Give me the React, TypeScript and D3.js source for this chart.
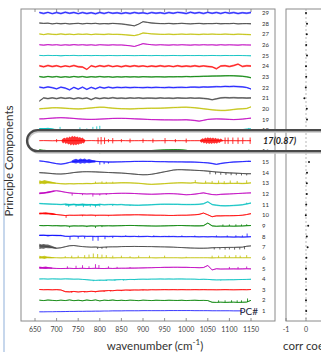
import * as d3 from 'd3';

// wavenumber grid shared by every trace (cm-1)
const wavenumbers = [
  660, 670, 680, 690, 700, 710, 720, 730, 740, 750,
  760, 770, 780, 790, 800, 810, 820, 830, 840, 850,
  860, 870, 880, 890, 900, 910, 920, 930, 940, 950,
  960, 970, 980, 990, 1000, 1010, 1020, 1030, 1040, 1050,
  1060, 1070, 1080, 1090, 1100, 1110, 1120, 1130, 1140, 1150,
];

const xTicks = [650, 700, 750, 800, 850, 900, 950, 1000, 1050, 1100, 1150];
const corrTicks = [-1, 0];

// MATLAB default colour order b g r c m y k
const colorCycle = ['#1010ff', '#008000', '#ff0000', '#00bfbf', '#bf00bf', '#bfbf00', '#404040'];

// loadings of each principal component (arbitrary units, offset added later)
const pc1 = [-0.8, -0.8, -0.7, -0.7, -0.6, -0.6, -0.5, -0.4, -0.4, -0.3, -0.3, -0.2, -0.2, -0.1, -0.1, 0, 0, 0.1, 0.1, 0.1, 0.2, 0.2, 0.2, 0.2, 0.3, 0.3, 0.3, 0.3, 0.3, 0.3, 0.4, 0.4, 0.4, 0.4, 0.4, 0.4, 0.3, 0.3, 0.3, 0.3, 0.2, 0.2, 0.2, 0.2, 0.2, 0.1, 0.1, 0.1];
const pc2 = [0.2, -0.2, 0.3, 0, -0.3, 0.2, -0.2, 0.4, -0.3, 0.1, -0.4, 0.3, -0.2, 0.4, -0.5, 0.2, -0.1, 0.3, -0.2, 0.1, -0.2, 0.2, 0, -0.3, 0.2, 0, -0.2, 0.1, 0, -0.1, 0.1, 0, -0.1, 0.1, -0.2, 0, 0.1, -0.1, 0, -0.2, -1.8, -1.9, -1.7, -1.9, -1.8, -1.7, -1.9, -1.8, -1.6, 0];
const pc3 = [0.2, 0, 0.1, -0.1, 0.1, -0.2, -1.8, -2, -1.6, -2.1, -1.7, -1.9, -1.5, -1.8, -1.3, -1.1, -0.8, -0.9, -0.5, -0.6, -0.3, -0.4, -0.2, -0.3, -0.1, -0.2, 0, -0.1, 0, 0.1, 0, 0.1, 0, 0.1, 0, 0, 0.1, 0, 0.1, 0, 0, -0.1, 0, 0.1, 0, -0.1, 0, 0.1, 0, 0.2];
const pc4 = [0.1, 0.2, 0, 0.2, 0.1, 0, 0.2, 0.1, -0.1, 0, -0.3, -0.6, -1, -1.2, -1, -1.1, -0.8, -0.9, -0.6, -0.5, -0.6, -0.3, -0.4, -0.2, -0.1, -0.2, 0, 0, 0.1, 0, 0.1, 0, 0.1, 0.1, 0, 0, -0.1, -0.3, -0.2, -0.3, -0.6, -0.8, -0.7, -0.7, -0.6, -0.6, -0.5, -0.4, -0.3, -0.2];
const pc5 = [0.8, 0.5, 0.6, 0.2, 0, -0.1, 0, 0.1, -0.1, 0, 0.1, -0.1, 0, 0.1, 0, -0.1, 0.1, 0, 0.1, 0.2, 0.2, 0.3, 0.3, 0.4, 0.5, 0.6, 0.7, 0.8, 0.9, 1, 1, 1.1, 1.1, 1, 1, 0.9, 0.8, 0.7, 0.8, 2.8, -1.4, -0.3, -0.6, -0.5, -0.5, -0.4, -0.5, -0.4, -0.3, -0.4];
const pc6 = [0.5, 0.4, 0.2, 0, 0, -0.1, 0, 0, -0.1, 0, 0, -0.1, 0, 0, -0.1, 0, 0, -0.1, 0, 0, 0, 0, -0.1, 0, 0, 0, 0, -0.1, 0, 0, 0, 0, 0, -0.1, 0, 0, 0, 0, 0, 0, -0.1, 0, 0, 0, 0, 0, 0, 0, 0, 0];
const pc7 = [1.2, 1, 0.6, -0.4, -1, -0.6, 0.4, 1.3, 1.5, 1, 0.5, 0.2, 0, 0.1, -0.2, 0, 0.2, 0.3, 0.3, 0.5, 0.6, 0.6, 0.7, 0.6, 0.6, 0.5, 0.5, 0.4, 0.3, 0.2, 0.1, 0, -0.2, -0.4, -0.6, -0.8, -0.9, -1, -1, -0.9, -0.6, -0.5, -0.4, -0.3, -0.2, -0.2, -0.1, 0, 0.8, 1.2];
const pc8 = [1, 1.2, 0.8, 1.1, 0.9, 1, 0.2, 0.1, 0.4, 0.2, 0.3, 0.1, 0.2, 0, 0.1, 0.2, 0, 0.2, 0.1, 0, 0.1, 0, 0.1, -0.1, 0, 0.1, -0.1, 0, -0.1, 0, -0.1, 0, -0.2, -0.1, -0.2, -0.1, -0.2, -0.3, -0.2, -0.3, -0.2, -0.3, -0.4, -0.3, -0.4, -0.5, -0.4, -0.5, -0.4, -0.2];
const pc9 = [0.3, 0.2, 0.3, 0.1, 0.2, 0, 0.1, -0.3, 0, -0.1, 0, -0.3, 0, -0.2, 0.1, 0, 0.1, 0, 0.1, 0.2, 0.3, 0.4, 0.3, 0.2, 0.1, 0, -0.1, -0.2, -0.1, 0, 0.1, 0.2, 0.3, 0.3, 0.2, 0.1, 0, 0, 0.2, 2.6, 0, -0.4, -0.2, -0.3, -0.2, -0.3, -0.2, -0.1, 0.2, 0.3];
const pc10 = [1.6, 1.8, 1.5, 1.2, 0.6, 0.2, -0.3, 0, -0.1, 0, 0.1, 0, 0.1, -0.1, 0, 0, -0.1, 0, 0.1, 0.2, 0.3, 0.3, 0.4, 0.4, 0.3, 0.2, 0.1, 0, 0, -0.1, -0.2, -0.2, -0.1, 0, 0, 0.2, 0.4, 0.8, 2, 0.4, -1.4, -0.6, -0.6, -0.5, -0.5, -0.4, -0.3, 0, 0.6, 1.5];
const pc11 = [1, 0.8, 0.6, 0.4, 0.2, 0, 0.4, -0.2, 0.3, -0.3, 0.2, -0.4, 0, -0.5, 0.2, -0.2, 0, 0.1, -0.1, 0, -0.3, -0.4, -0.6, -0.7, -0.5, -0.3, -0.1, 0.1, 0.2, 0.3, 0.3, 0.2, 0.2, 0.1, 0, 0, 0.1, 0.2, 0.8, 2.6, 0, -0.6, -1, -1.2, -1, -0.8, -0.6, -0.2, 0.6, 1.4];
const pc12 = [0.6, 0.9, 1.6, 2.6, 3, 2.4, 1.6, 1, 0.6, 0.4, 0.2, 0, 0.1, -0.1, 0, 0.1, 0.2, 0.4, 0.5, 0.6, 0.6, 0.5, 0.4, 0.2, 0, -0.2, -0.3, -0.2, 0, 0.2, 0.3, 0.2, 0, -0.4, -0.8, -0.6, -0.2, 0.4, 1, 0.2, -0.6, -0.8, -0.4, -0.2, 0, 0.2, 0.4, 0.6, 0.8, 1];
const pc13 = [1, 1.2, 0.8, 0.4, 0, -0.4, -0.6, -0.4, -0.5, -0.3, -0.4, -0.2, -0.3, 0, 0.1, 0, 0.2, 0.1, 0.3, 0.5, 0.5, 0.4, 0.2, 0, -0.4, -0.8, -1, -0.8, -0.6, -0.3, 0, 0.2, 0.4, 0.5, 0.3, 0.2, 0.6, 0.2, 0, 0.2, 0, -0.2, 0, -0.2, 0, -0.1, 0, -0.2, 0, 0.4];
const pc14 = [0, -0.2, -0.5, -0.9, -1.2, -1.3, -1, -0.5, 0.1, 0.5, 0.8, 0.9, 0.8, 0.7, 0.5, 0.3, 0.1, 0, -0.2, -0.4, -0.7, -1, -1.4, -1.8, -2, -1.9, -1.5, -0.8, 0, 0.8, 1.6, 2.4, 2.8, 2.8, 2.6, 2.4, 2.2, 2, 1.8, 1.4, 1, 0.6, 0.3, 0, -0.2, -0.4, -0.6, -0.8, -1, -1];
const pc15 = [1, 0.6, 0, -0.8, -1.6, -2, -1.4, -0.4, 0.5, 1, 1.2, 1, 0.8, 0.6, 0.4, 0.2, 0, 0, 0.1, 0.2, 0.3, 0.4, 0.5, 0.5, 0.6, 0.5, 0.5, 0.4, 0.3, 0.3, 0.2, 0.2, 0.1, 0.1, 0, 0, -0.1, -0.3, -0.5, -0.8, -1.4, -2.2, -1.4, -0.8, -0.4, 0, 0.2, 0.4, 0.6, 0.6];
const pc16 = [1.2, 0.8, 0.3, 0, -0.2, -0.3, -0.4, -0.5, -0.6, -0.7, -0.8, -0.9, -1, -1, -0.9, -0.8, -0.6, -0.4, -0.2, 0, 0.2, 0.3, 0.4, 0.5, 0.6, 0.7, 0.8, 1, 1.2, 1.4, 1.5, 1.6, 1.6, 1.4, 1, 0.4, -0.2, -0.8, -1, -0.9, -0.6, -0.4, -0.3, -0.2, -0.1, 0, 0, 0.1, 0.4, 0.2];
const pc17 = [0, 0.1, 0, -0.1, 0, 0.1, 0, 0, 0, 0, 0, 0, 0.1, 0, -0.1, 0, 0.1, 0, 0, 0.1, 0, -0.1, 0, 0, 0.1, 0, 0, -0.1, 0, 0, 0.1, 0, 0, 0, -0.1, 0, 0, 0, 0, 0, 0, 0, 0.1, 0, 0, 0, -0.1, 0, 0, 0];
const pc18 = [1, 1.3, 1.1, 0.8, 0.3, -0.3, -0.5, -0.4, -0.6, -0.3, -0.4, -0.2, -0.3, -0.2, 0, -0.1, 0, 0.1, 0, 0.1, 0.2, 0.1, 0.2, 0.1, 0, 0, -0.1, 0, 0.1, 0, 0, -0.1, -0.2, -0.3, -0.5, -0.4, -0.2, 0, 0.1, 0, 0.1, 0, 0.1, 0.2, 0.1, 0.2, 0.3, 0.4, 0.8, 1];
const pc19 = [0.5, 0.6, 0.9, 1.2, 1.5, 1.6, 1.5, 1.2, 0.9, 0.6, 0.3, 0.1, 0, 0.1, 0.3, 0.5, 0.7, 0.9, 1, 1, 0.9, 0.8, 0.6, 0.4, 0.2, 0, -0.1, -0.2, -0.3, -0.4, -0.4, -0.5, -0.5, -0.4, -0.3, -0.6, -1, -1.6, -0.8, 0, 0.3, 0.5, 0.4, 0.2, 0, -0.1, 0, 0.3, 0.8, 1.2];
const pc20 = [0, 0.3, 0.6, 0.9, 1, 0.8, 0.5, 0.2, 0, -0.1, 0.1, 0.4, 0.8, 1.2, 1.5, 1.4, 1, 0.6, 0.3, 0.1, 0, -0.1, 0, 0.2, 0.3, 0.4, 0.5, 0.5, 0.6, 0.7, 0.9, 1.1, 1.3, 1.4, 1.5, 1.3, 1, 0.5, 0, -0.5, -1, -1.3, -1.5, -1.5, -1.2, -0.6, -0.2, 0, 0.3, 1.8];
const pc21 = [-2.8, 0.2, -0.4, 0.3, -0.5, 0.4, -0.3, 0.2, -0.6, 0.3, -0.4, 0.2, -1.4, 0.3, -0.5, 0.2, -0.3, 0.4, -0.2, 0.1, -0.3, 0.2, -0.1, 0.3, -0.2, 0.1, 0, -0.2, 0.2, -0.1, 0.1, -0.2, 0.2, 0, -0.1, 0.2, -0.1, 0.1, -0.3, -0.6, -1.5, -0.6, 0.2, 0.5, 0.3, 0.4, 0.2, 0.3, 0.1, 0.2];
const pc22 = [0.4, -0.3, 0.5, -0.2, -1.2, 0.3, -0.5, -2.2, 0.2, -1.6, 0.3, -1.8, 0.2, -1.2, 0.4, -0.5, 0.3, -0.4, 0.2, -0.1, 0.2, -0.2, 0.1, 0, -0.2, 0.1, -0.1, 0.2, 0, -0.1, 0.2, -0.1, 0.1, 0.2, 0, 0.3, 0.4, 0.2, 0.5, 0.4, 0.6, 0.8, 0.7, 1, 0.9, 1.1, 0.8, 0.6, 0, -1.4];
const pc23 = [0.3, -0.3, 0.4, -0.2, 0.3, -0.4, 0.2, -0.3, 0.4, -0.2, 0.3, -0.4, 0.2, -0.2, 0.3, -0.1, 0.2, -0.3, 0.1, -0.2, 0.2, -0.1, 0.1, -0.2, 0.2, 0, -0.1, 0.1, 0, -0.1, 0.1, 0, 0.2, 0.1, 0.3, 0.2, 0.3, 0.4, 0.5, 0.6, 0.7, 0.8, 0.9, 1, 1.1, 1, 0.8, 0.5, 0, -0.8];
const pc24 = [0.4, -0.5, 0.6, -0.3, 0.5, -0.6, 0.3, -0.4, 0.6, -0.5, -0.8, -3, 0.4, -0.6, 0.5, -0.3, 0.6, -0.4, 0.3, -0.5, 0.4, -0.3, 0.5, -0.2, 0.3, -0.4, 0.2, -0.3, 0.4, -0.2, 0.3, -0.4, 0.5, -0.3, 0.2, -0.2, 0.4, -0.3, 0.3, -0.2, -0.6, -2.4, 0.2, 0.5, -0.3, 0.6, 2, -0.2, 0.4, 0.2];
const pc25 = [0.2, -0.1, 0.2, 0, 0.1, -0.2, 0.1, 0, 0.2, -0.1, 0, 0.1, -0.1, 0.1, 0, -0.1, 0.1, 0, -0.1, 0, 0.1, 0, -0.1, 0, 0.1, 0, -0.1, 0.1, 0, -0.1, 0, 0.1, 0, -0.1, 0.1, 0, 0, 0.1, -0.1, 0, 0.1, 0, -0.1, 0.1, 0, 0, 0.1, 0, -0.1, -0.2];
const pc26 = [0.2, -0.2, 0.3, -0.1, 0.2, -0.3, 0.1, -0.2, 0.3, -0.1, 0.2, -0.2, 0.1, -0.3, 0.2, 0, -0.2, 0.1, -0.1, 0, -0.4, -0.8, -1.4, -0.2, 1.2, 0.6, 0.2, -0.1, 0.2, 0, -0.2, 0.1, -0.1, 0.2, 0, -0.2, 0.1, -0.1, 0.2, 0, 0.1, -0.2, 0.2, -0.1, 0.1, 0, -0.2, 0.1, 0, -0.1];
const pc27 = [0.3, -0.3, 0.4, 0, -0.2, 0.3, -0.2, 0.1, -0.3, 0.2, -0.1, 0.2, -0.3, 0.1, 0, -0.2, 0.2, -0.1, 0, -0.2, -0.5, -0.9, -1.2, -0.3, 1.2, 0.8, 0.4, 0.2, 0, -0.1, 0.1, -0.2, 0, 0.2, -0.1, 0.1, 0, -0.2, 0.1, 0, 0.2, 0, -0.1, 0.2, 0, -0.2, 0.1, 0, -0.2, -0.4];
const pc28 = [0.6, 0.2, 0.4, -0.2, 0.3, -0.1, 0.2, -0.3, 0.1, 0.3, -0.2, 0.2, 0, 0.3, -0.2, 0.1, -0.1, 0.2, 0, -0.3, -0.8, -1.4, -2, -0.4, 1.8, 1.2, 0.6, 0.3, 0.1, 0, 0.2, -0.1, 0.1, 0.3, 0, -0.2, 0.1, 0.2, -0.1, 0.1, 0, 0.2, -0.1, 0.1, 0, 0.2, -0.2, 0, 0.1, -0.1];
const pc29 = [0.5, -0.4, 0.6, -0.6, 0.4, -0.5, 0.7, -0.3, 0.5, -0.6, 0.4, -0.5, 0.3, -0.7, 0.5, -0.4, 0.6, -0.3, 0.2, -0.5, 0.3, -0.4, 0.5, -0.3, 0.2, -0.6, 0.4, -0.2, 0.3, -0.5, 0.4, -0.3, 0.6, 0.2, -0.5, 0.7, -0.2, 0.5, -0.4, 0.6, -0.3, 0.5, -0.4, 0.6, -0.2, 0.4, -0.5, 0.3, -0.2, 0.4];

const loadings = [pc1, pc2, pc3, pc4, pc5, pc6, pc7, pc8, pc9, pc10, pc11, pc12, pc13, pc14, pc15,
  pc16, pc17, pc18, pc19, pc20, pc21, pc22, pc23, pc24, pc25, pc26, pc27, pc28, pc29];

// half width of the fine noise on each trace, PC1..PC29
const noiseWidth = [0.1, 0.4, 0.5, 0.4, 0.5, 0.3, 0.4, 0.6, 0.5, 0.5, 0.7, 0.5, 0.6, 0.5, 0.6,
  0.5, 0.2, 0.7, 0.6, 0.7, 0.8, 0.8, 0.7, 0.9, 0.4, 0.5, 0.6, 0.6, 0.9];

// sharp peaks: [wavenumber, tip value]
const spikes2 = [[1075, 0], [1090, 0], [1105, 0.1], [1118, 0], [1128, 0], [1142, 1.8]];
const spikes3 = [[735, -2.8], [765, -2.6], [790, -2.4], [810, -2], [825, -1.6], [850, -1.3], [870, -1], [900, -0.8]];
const spikes4 = [[785, -2], [800, -1.8], [815, -1.8], [835, -1.6], [855, -1.4], [880, -1], [1080, -1.4]];
const spikes5 = [[725, 2], [745, 2.5], [760, 3], [775, 2], [790, 4], [798, 3.2], [820, 2], [840, 1.5], [870, 1.2], [1100, 1.4], [1120, 1.4], [1140, 1.8]];
const spikes6 = [[720, 1.5], [735, 2], [750, 2], [765, 2.5], [775, 3], [785, 4], [795, 3.5], [805, 3], [815, 2.5], [830, 2], [850, 2], [870, 1.5], [890, 2], [915, 2], [950, 2], [1000, 1], [1060, 2], [1075, 2], [1090, 2.5], [1100, 2], [1115, 2.5], [1125, 2], [1140, 2.5]];
const spikes7 = [[795, -1.8], [805, -1.6], [815, -1.2], [1065, -2.2], [1078, -2.2], [1090, -2.4], [1100, -2.2], [1112, -2.4], [1124, -2.2], [1135, -2]];
const spikes8 = [[731, -3], [750, -2], [765, -2], [784, -4], [796, -4], [812, -2.5], [830, -1.5], [860, 1], [890, 0.9], [925, 1], [960, 0.8], [990, 1], [1020, 0.9], [1070, 1], [1095, 1], [1115, 1.1], [1130, 1], [1141, 2.8]];
const spikes9 = [[730, -1.6], [770, -1.2], [790, -2], [805, -1.2], [1085, 1.3], [1100, 1.3], [1115, 1.4], [1128, 1.3], [1140, 1.5]];
const spikes10 = [[722, -2.5], [760, -1], [790, -1.2], [820, -1]];
const spikes11 = [[728, -2.2], [745, -2], [762, -2.4], [778, -2], [790, -2.6], [800, -1.8], [830, -1.4], [870, -1.2], [1140, 1.8]];
const spikes12 = [[736, -1.6], [760, -1.2], [784, -2.5], [800, -1.5], [815, -1]];
const spikes13 = [[790, 1.6], [805, 1.8], [815, 1.4], [830, 1.5], [1021, 3], [1045, 2.4], [1060, 2.2], [1075, 2.6], [1088, 2], [1102, 2.6], [1118, 2.2], [1140, 2.8]];
const spikes14 = [[1055, -1.5], [1068, -1.6], [1080, -2], [1092, -2.2], [1104, -2.4], [1116, -2.4], [1128, -2.6], [1140, -2.6]];
const spikes15 = [[800, -2.5], [810, -2], [820, -1.5], [1145, 1.2]];
const spikes16 = [[790, -1.6], [800, -2.2], [1145, 1.6]];
const spikes17 = [[700, 1.5], [700, -1.5], [796, 3], [796, -3], [803, 3.5], [803, -3.5], [811, 3], [811, -3], [820, 1.5], [820, -1.5], [830, 2.5], [830, -2.5], [850, 1.5], [850, -1.5], [870, 2], [870, -2], [900, 2], [900, -2], [923, 2], [923, -2], [951, 2.5], [951, -2.5], [975, 1.5], [975, -1.5], [1000, 2], [1000, -2], [1090, 3], [1090, -3], [1097, 3], [1097, -3], [1108, 3], [1108, -3], [1120, 3], [1120, -3], [1131, 3], [1131, -3], [1148, 3], [1148, -3]];
const spikes18 = [[708, 3], [754, 2.5], [770, 1.5], [784, 3], [793, 3.5], [800, 4], [1145, 2]];

const spikes = { 2: spikes2, 3: spikes3, 4: spikes4, 5: spikes5, 6: spikes6, 7: spikes7, 8: spikes8, 9: spikes9, 10: spikes10, 11: spikes11, 12: spikes12, 13: spikes13, 14: spikes14, 15: spikes15, 16: spikes16, 17: spikes17, 18: spikes18 };

// dense bursts: [wavenumber, low, high]
const burst5 = [[660, -0.6, 1.8], [667, -0.2, 1.4], [675, -0.6, 1.7], [682, -0.2, 1.2], [690, -0.3, 0.8]];
const burst6 = [[660, -1, 1.8], [666, -0.6, 1.4], [672, -1.1, 1.9], [678, -0.5, 1.3], [685, -0.4, 0.9], [695, -0.1, 0.2]];
const burst7 = [[660, -1.8, 3.2], [665, -1.2, 2.6], [670, -1.6, 3], [675, -0.9, 2.5], [680, -1, 2.4], [690, -1, 1], [700, -1.5, -0.5]];
const burst8 = [[660, 0.4, 1.6], [670, 0.6, 1.4], [680, 0.3, 1.6], [690, 0.6, 1.5], [700, 0.4, 1.6], [712, 0.3, 1.2]];
const burst10 = [[660, 0.6, 2.6], [667, 0.9, 2.3], [675, 0.6, 2.8], [682, 0.8, 2.3], [690, 0.3, 2], [700, 0.2, 1]];
const burst11 = [[720, -1, 0.8], [740, -0.6, 0.5], [760, -1, 0.8], [780, -0.7, 0.5], [800, -1, 0.6]];
const burst12 = [[660, -0.4, 1.4], [670, 0.2, 1.6], [680, 0.6, 2.2], [688, 1.4, 2.6], [695, 2, 3.3]];
const burst13 = [[660, -1, 2.8], [666, -0.5, 2.2], [672, -0.8, 3], [678, -0.3, 2.3], [685, -0.2, 2], [698, -0.3, 0.6]];
const burst15 = [[735, -0.5, 1.5], [740, -1, 2.4], [745, -1.5, 3], [750, -0.8, 2.2], [755, -1.6, 3.2], [760, -1, 2.6], [765, -1.5, 3.2], [770, -0.8, 2.2], [775, -1.2, 2.8], [782, -0.6, 1.8], [790, -0.5, 1.5]];
const burst16 = [[660, 0.4, 2], [666, 0.6, 1.6], [672, 0, 1.6], [685, -0.4, 0.8]];
const burst17a = [[712, -1, 1], [715, -2.5, 2], [718, -1.5, 2.8], [721, -3, 2], [724, -2.2, 3.4], [727, -3.6, 2.6], [730, -2.8, 4], [733, -4.4, 3], [736, -3.2, 4.6], [739, -4.6, 3.6], [742, -3.4, 4.4], [745, -4.2, 3.2], [748, -3, 4], [751, -3.8, 2.8], [754, -2.6, 3.6], [757, -3.2, 2.4], [760, -2, 3], [763, -2.6, 1.6], [766, -0.8, 0.8]];
const burst17b = [[1032, -0.6, 0.6], [1035, -1.8, 1.4], [1038, -1.2, 2.4], [1041, -2.6, 1.6], [1044, -1.6, 3], [1047, -3, 2], [1050, -2, 3.2], [1053, -3.2, 2.2], [1056, -2.2, 3], [1059, -3, 2], [1062, -1.8, 3], [1065, -2.8, 1.8], [1068, -2, 2.8], [1071, -2.8, 1.6], [1074, -1.4, 2.4], [1077, -2.2, 1.2], [1080, -1, 2], [1085, -0.5, 0.5]];
const burst18 = [[660, 0.2, 2], [670, 0.6, 1.8], [680, 0.2, 2.2], [688, 0.4, 1.6], [695, 0, 1]];

const bursts = { 5: [burst5], 6: [burst6], 7: [burst7], 8: [burst8], 10: [burst10], 11: [burst11], 12: [burst12], 13: [burst13], 15: [burst15], 16: [burst16], 17: [burst17a, burst17b], 18: [burst18] };

// correlation coefficient of each PC, PC1..PC29
const corrCoef = [0.01, 0, 0.01, 0, 0, 0.02, 0.08, 0.04, 0.11, -0.01, 0.01, 0.04, 0.04, 0.05, 0.15,
  0.14, 0.87, -0.05, 0.05, 0.04, -0.08, -0.01, 0.01, 0, 0.05, 0.01, 0.04, 0.05, 0];

const highlightPc = 17;

const W = 321;
const H = 352;
const frame = { left: 21, right: 275, top: 9, bottom: 321 };
const frame2 = { left: 286, right: 340 };
const font = 'Lato, "Open Sans", sans-serif';

export default function App() {
  const x = d3.scaleLinear().domain([650, 1150]).range([35, 251]);
  // each PC sits 10 units above the previous one
  const y = d3.scaleLinear().domain([10, 290]).range([311, 13]);
  const xc = d3.scaleLinear().domain([-1, 1]).range([286, 326]);

  const pcs = loadings.map((vals, i) => i + 1);

  return (
    <svg width={W} height={H} style={{ position: 'absolute', left: 0, top: 0, background: '#fff' }}
      fontFamily={font}>
      <line x1={4} x2={4} y1={128} y2={H} stroke="#c7d7ec" strokeWidth={2} />

      {/* left panel frame */}
      <rect x={frame.left} y={frame.top} width={frame.right - frame.left} height={frame.bottom - frame.top}
        fill="none" stroke="#8a8a8a" strokeWidth={1} />
      {xTicks.map(t => (
        <g key={t}>
          <line x1={x(t)} x2={x(t)} y1={frame.top} y2={frame.top + 3} stroke="#777" strokeWidth={0.8} />
          <line x1={x(t)} x2={x(t)} y1={frame.bottom} y2={frame.bottom - 3} stroke="#777" strokeWidth={0.8} />
          <text x={x(t)} y={331.5} fontSize={7} textAnchor="middle" fill="#444">{t}</text>
        </g>
      ))}

      {pcs.map(pc => {
        const vals = loadings[pc - 1];
        const color = colorCycle[(pc - 1) % colorCycle.length];
        const off = pc * 10;
        const pts = vals.map((v, i) => [wavenumbers[i], v]);
        const line = d3.line().x(d => x(d[0])).y(d => y(off + d[1]));
        const n = noiseWidth[pc - 1];
        const halo = d3.area().x(d => x(d[0])).y0(d => y(off + d[1] - n)).y1(d => y(off + d[1] + n));
        const band = d3.area().x(d => x(d[0])).y0(d => y(off + d[1])).y1(d => y(off + d[2]));
        const sp = spikes[pc] || [];
        const bs = bursts[pc] || [];
        return (
          <g key={pc}>
            <path d={halo(pts)} fill={color} opacity={0.5} />
            {bs.map((b, k) => <path key={k} d={band(b)} fill={color} opacity={0.8} />)}
            <path d={line(pts)} fill="none" stroke={color} strokeWidth={0.8} />
            {sp.map((s, k) => {
              const idx = Math.max(0, Math.min(vals.length - 1, Math.round((s[0] - wavenumbers[0]) / 10)));
              return <line key={k} x1={x(s[0])} x2={x(s[0])} y1={y(off + vals[idx])} y2={y(off + s[1])}
                stroke={color} strokeWidth={0.8} />;
            })}
            {pc !== highlightPc && (
              <text x={262} y={y(off)} dy="0.35em" fontSize={6} fill="#333">{pc}</text>
            )}
          </g>
        );
      })}
      <text x={258} y={y(10)} dy="0.35em" fontSize={10} textAnchor="end" fill="#1b1b3a">PC#</text>

      {/* right panel: correlation coefficients */}
      <rect x={frame2.left} y={frame.top} width={frame2.right - frame2.left} height={frame.bottom - frame.top}
        fill="none" stroke="#8a8a8a" strokeWidth={1} />
      <line x1={xc(0)} x2={xc(0)} y1={frame.top} y2={frame.bottom} stroke="#9a9a9a" strokeWidth={0.7} strokeDasharray="2,2" />
      {corrTicks.map(t => (
        <g key={t}>
          <line x1={xc(t)} x2={xc(t)} y1={frame.bottom} y2={frame.bottom - 3} stroke="#777" strokeWidth={0.8} />
          <text x={xc(t)} y={331.5} fontSize={7} textAnchor="middle" fill="#444">{t}</text>
        </g>
      ))}
      {pcs.map(pc => (
        <circle key={pc} cx={xc(corrCoef[pc - 1])} cy={y(pc * 10)} r={1} fill="#111" />
      ))}

      {/* highlighted component */}
      <rect x={28} y={y(highlightPc * 10) - 9} width={330} height={21} rx={10.5}
        fill="none" stroke="#c8c8c8" strokeWidth={2} />
      <rect x={27} y={y(highlightPc * 10) - 10.5} width={330} height={21} rx={10.5}
        fill="none" stroke="#4a4a4a" strokeWidth={2.2} />
      <text x={263} y={y(highlightPc * 10)} dy="0.35em" fontSize={9} fontWeight="bold" fontStyle="italic" fill="#222">
        {highlightPc}({corrCoef[highlightPc - 1].toFixed(2)})
      </text>

      {/* axis titles */}
      <text transform={`translate(13,161) rotate(-90)`} fontSize={11.5}
        textAnchor="middle" fill="#333">Principle Components</text>
      <text x={155} y={350} fontSize={11.5} textAnchor="middle" fill="#333">
        wavenumber (cm<tspan fontSize={8} dy={-5}>-1</tspan><tspan dy={5}>)</tspan>
      </text>
      <text x={283} y={350} fontSize={11.5} fill="#333">corr coefficient</text>
    </svg>
  );
}
